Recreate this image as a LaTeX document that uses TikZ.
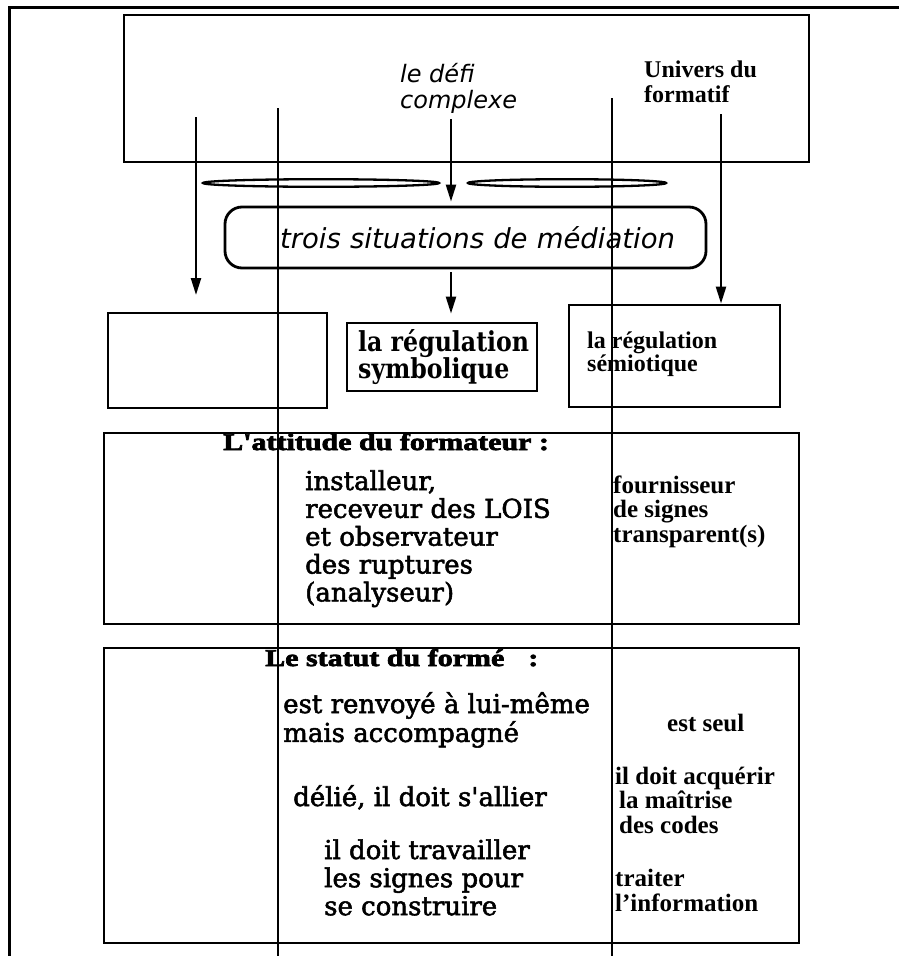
\documentclass[tikz,border=0pt]{standalone}
\usepackage{fontspec}
\usetikzlibrary{arrows.meta}
\setmainfont{Liberation Serif}
\newfontfamily\oblfont{DejaVu Sans Oblique}
\newfontfamily\dvserif[Ligatures=TeXOff,FakeBold=2]{DejaVu Serif}
\newfontfamily\symbfont[FakeStretch=0.86]{DejaVu Serif Bold}
\newfontfamily\timesbold{Liberation Serif Bold}
\newfontfamily\headfont[FakeStretch=1.25,FakeBold=3,Ligatures=TeXOff]{Liberation Serif Bold}
\newcommand\txtblock[1]{\begin{tabular}[t]{@{}l@{}}#1\end{tabular}}

\begin{document}
\begin{tikzpicture}[x=1pt,y=-1pt,
  frame/.style={line width=3pt},
  box/.style={draw, line width=2.8pt, inner sep=0pt},
  conn/.style={line width=2.3pt},
  arr/.style={conn, -{Triangle[length=17pt,width=10pt]}},
  lens/.style={line width=2.3pt},
  txt/.style={inner sep=0pt, anchor=base west},
  bodytxt/.style={txt, font=\dvserif\fontsize{26}{27}\selectfont},
  sidetxt/.style={txt, font=\timesbold\fontsize{25}{24}\selectfont},
  headtxt/.style={txt, font=\headfont\fontsize{24}{26}\selectfont}]
\useasboundingbox (0,0) rectangle (899,956);

% outer frame
\draw[frame] (9,956) -- (9,7) -- (899,7);

% top box: the complex challenge and the training universe
\node[box, minimum width=685pt, minimum height=147pt] (univers) at (466.5,88.5) {};
\node[txt, font=\oblfont\fontsize{24}{26}\selectfont] (defi) at (400,82) {\txtblock{le défi\\complexe}};
\node[txt, font=\timesbold\fontsize{24}{25}\selectfont] (univtxt) at (644,77) {\txtblock{Univers du\\formatif}};

% the two lenses
\draw[lens] (321,183) ellipse [x radius=118, y radius=3.8];
\draw[lens] (567,183) ellipse [x radius=99, y radius=3.8];

% mediation box
\node[box, rounded corners=17pt, text width=481pt, minimum height=61pt, align=left,
      font=\oblfont\fontsize{27.5}{30}\selectfont] (med) at (465.5,237.5)
      {\hspace*{55pt}trois situations de médiation};

% the three regulations
\node[box, minimum width=219pt, minimum height=95pt] (vide) at (217.5,360.5) {};
\node[box, minimum width=190pt, minimum height=68pt] (symb) at (442,357) {};
\node[txt, font=\symbfont\fontsize{27.5}{22.5}\selectfont] (symbtxt) at (358,351) {\txtblock{la régulation\\symbolique}};
\node[box, minimum width=211pt, minimum height=102pt] (semio) at (674.5,356) {};
\node[txt, font=\timesbold\fontsize{24}{22}\selectfont] (semiotxt) at (587,348) {\txtblock{la régulation\\sémiotique}};

% attitude of the trainer
\node[box, minimum width=695pt, minimum height=191pt] (attitude) at (451.5,528.5) {};
\node[headtxt] (atthead) at (223,450) {L'attitude du formateur :};
\node[bodytxt] (attleft) at (305,490) {\txtblock{installeur,\\receveur des LOIS\\et observateur\\des ruptures\\(analyseur)}};
\node[sidetxt] (attright) at (613,493) {\txtblock{fournisseur\\de signes\\transparent(s)}};

% status of the trainee
\node[box, minimum width=695pt, minimum height=295pt] (statut) at (451.5,795.5) {};
\node[headtxt] (stahead) at (265,666) {Le statut du formé\hspace{24pt}:};
\node[bodytxt] (sta1) at (283,713) {\txtblock{est renvoyé à lui-même\\mais accompagné}};
\node[bodytxt] (sta2) at (293,806) {délié, il doit s'allier};
\node[txt, font=\dvserif\fontsize{26}{28}\selectfont] (sta3) at (324,859) {\txtblock{il doit travailler\\les signes pour\\se construire}};
\node[sidetxt] (sta4) at (667,731) {est seul};
\node[sidetxt] (sta5) at (615,784) {\txtblock{il doit acquérir\\\hspace*{4pt}la maîtrise\\\hspace*{4pt}des codes}};
\node[txt, font=\timesbold\fontsize{25}{25}\selectfont] (sta6) at (615,886) {\txtblock{traiter\\l’information}};

% connectors
\coordinate (p1) at (196,117);
\coordinate (q1) at (196,295);
\draw[arr] (p1) -- (q1);
\coordinate (p2) at (278,108);
\coordinate (q2) at (278,956);
\draw[conn] (p2) -- (q2);
\coordinate (p3) at (451,119);
\draw[arr, shorten >=4pt] (p3) -- (p3 |- med.north);
\draw[arr, shorten <=3pt, shorten >=8pt] (med.south -| p3) -- (symb.north -| p3);
\coordinate (p4) at (612,98);
\coordinate (q4) at (612,956);
\draw[conn] (p4) -- (q4);
\coordinate (p5) at (721,114);
\draw[arr] (p5) -- (p5 |- semio.north);
\end{tikzpicture}
\end{document}
